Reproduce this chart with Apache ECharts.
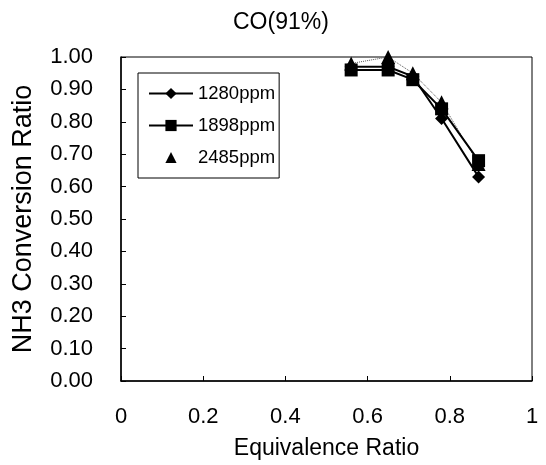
<!DOCTYPE html>
<html>
<head>
<meta charset="utf-8">
<script src="https://cdn.jsdelivr.net/npm/echarts@6/dist/echarts.min.js"></script>
<style>
  html, body { margin: 0; padding: 0; background: #fff; }
  #chart { width: 546px; height: 465px; }
</style>
</head>
<body>
<div id="chart"></div>
<script>
// Equivalence ratio (x) and NH3 conversion ratio for three inlet NH3 levels
const equivalenceRatio = [0.56, 0.65, 0.71, 0.78, 0.87];
const conv1280 = [0.97, 0.97, 0.94, 0.81, 0.63];
const conv1898 = [0.96, 0.96, 0.93, 0.84, 0.68];
const conv2485 = [0.98, 1.00, 0.95, 0.86, 0.67];
const seriesNames = ['1280ppm', '1898ppm', '2485ppm'];
const xTicks = ['0', '0.2', '0.4', '0.6', '0.8', '1'];

const FONT = '"Liberation Sans", Arial, sans-serif';
const pairs = ys => equivalenceRatio.map((x, i) => [x, ys[i]]);

const chart = echarts.init(document.getElementById('chart'), null, { renderer: 'canvas' });
chart.setOption({
  animation: false,
  backgroundColor: '#fff',
  title: {
    text: 'CO(91%)',
    left: 228, top: 6,
    textStyle: { fontFamily: FONT, fontSize: 23, fontWeight: 'normal', color: '#000' }
  },
  grid: {
    left: 121, right: 14, top: 57, bottom: 83,
    show: true, borderColor: '#000', borderWidth: 1, backgroundColor: '#fff'
  },
  legend: {
    orient: 'vertical',
    left: 138, top: 73,
    padding: [11, 4, 11, 10],
    itemGap: 13,
    itemWidth: 44, itemHeight: 14,
    backgroundColor: '#fff',
    borderColor: '#000', borderWidth: 1,
    textStyle: { fontFamily: FONT, fontSize: 18.5, lineHeight: 18, color: '#000' },
    data: [
      { name: seriesNames[0] },
      { name: seriesNames[1] },
      { name: seriesNames[2], lineStyle: { opacity: 0 } }
    ]
  },
  xAxis: {
    type: 'value', min: 0, max: 1, interval: 0.2,
    name: 'Equivalence Ratio', nameLocation: 'middle', nameGap: 56,
    nameTextStyle: { fontFamily: FONT, fontSize: 23, color: '#000' },
    axisLine: { lineStyle: { color: '#000', width: 1.5 } },
    axisTick: { inside: true, length: 5, lineStyle: { color: '#000' } },
    axisLabel: {
      margin: 25, fontFamily: FONT, fontSize: 22, color: '#000',
      formatter: v => xTicks[Math.round(v / 0.2)]
    },
    splitLine: { show: false }
  },
  yAxis: {
    type: 'value', min: 0, max: 1, interval: 0.1,
    name: 'NH3 Conversion Ratio', nameLocation: 'middle', nameGap: 84,
    nameTextStyle: { fontFamily: FONT, fontSize: 27, color: '#000' },
    axisLine: { lineStyle: { color: '#000', width: 1.5 } },
    axisTick: { inside: true, length: 5, lineStyle: { color: '#000' } },
    axisLabel: {
      margin: 28, fontFamily: FONT, fontSize: 22, color: '#000',
      formatter: v => v.toFixed(2)
    },
    splitLine: { show: false }
  },
  series: [
    {
      name: seriesNames[0], type: 'line', data: pairs(conv1280), clip: false,
      symbol: 'diamond', symbolSize: 13, z: 3,
      itemStyle: { color: '#000' }, lineStyle: { color: '#000', width: 2 }
    },
    {
      name: seriesNames[1], type: 'line', data: pairs(conv1898), clip: false,
      symbol: 'rect', symbolSize: 13, z: 4,
      itemStyle: { color: '#000' }, lineStyle: { color: '#000', width: 2 }
    },
    {
      name: seriesNames[2], type: 'line', data: pairs(conv2485), clip: false,
      symbol: 'triangle', symbolSize: 14, z: 2,
      itemStyle: { color: '#000' }, lineStyle: { color: '#555', width: 1, type: 'dotted' }
    }
  ]
});
</script>
</body>
</html>
